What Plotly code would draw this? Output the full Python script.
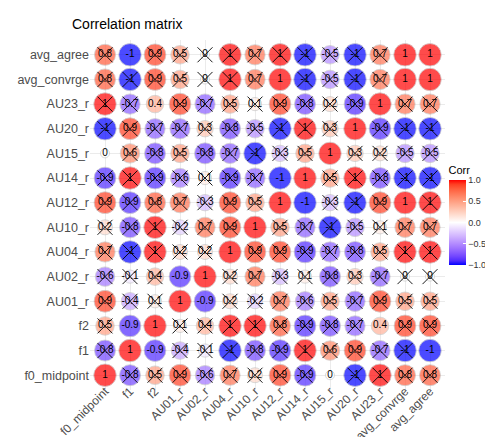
import plotly.graph_objects as go
import numpy as np

variables = ["f0_midpoint", "f1", "f2", "AU01_r", "AU02_r", "AU04_r", "AU10_r",
             "AU12_r", "AU14_r", "AU15_r", "AU20_r", "AU23_r", "avg_convrge", "avg_agree"]

# correlation matrix (row i = variable i, column j = variable j)
corr = [
    [1, -0.8, 0.5, 0.9, -0.6, 0.7, 0.2, 0.9, -0.9, 0, -1, 1, 0.8, 0.8],
    [-0.8, 1, -0.9, -0.4, -0.1, -1, -0.8, -0.9, 1, 0.6, 0.9, -0.7, -1, -1],
    [0.5, -0.9, 1, 0.1, 0.4, 1, 1, 0.8, -0.9, -0.8, -0.7, 0.4, 0.9, 0.9],
    [0.9, -0.4, 0.1, 1, -0.9, 0.2, -0.2, 0.7, -0.6, 0.5, -0.7, 0.9, 0.5, 0.5],
    [-0.6, -0.1, 0.4, -0.9, 1, 0.2, 0.7, -0.3, 0.1, -0.8, 0.3, -0.7, 0, 0],
    [0.7, -1, 1, 0.2, 0.2, 1, 0.9, 0.9, -0.9, -0.7, -0.8, 0.5, 1, 1],
    [0.2, -0.8, 1, -0.2, 0.7, 0.9, 1, 0.5, -0.7, -1, -0.5, 0.1, 0.7, 0.7],
    [0.9, -0.9, 0.8, 0.7, -0.3, 0.9, 0.5, 1, -1, -0.3, -1, 0.9, 1, 1],
    [-0.9, 1, -0.9, -0.6, 0.1, -0.9, -0.7, -1, 1, 0.5, 1, -0.8, -1, -1],
    [0, 0.6, -0.8, 0.5, -0.8, -0.7, -1, -0.3, 0.5, 1, 0.3, 0.2, -0.5, -0.5],
    [-1, 0.9, -0.7, -0.7, 0.3, -0.8, -0.5, -1, 1, 0.3, 1, -0.9, -1, -1],
    [1, -0.7, 0.4, 0.9, -0.7, 0.5, 0.1, 0.9, -0.8, 0.2, -0.9, 1, 0.7, 0.7],
    [0.8, -1, 0.9, 0.5, 0, 1, 0.7, 1, -1, -0.5, -1, 0.7, 1, 1],
    [0.8, -1, 0.9, 0.5, 0, 1, 0.7, 1, -1, -0.5, -1, 0.7, 1, 1],
]

# 1 = not significant (crossed out)
insig = [
    [0, 1, 1, 1, 1, 1, 1, 1, 1, 0, 1, 1, 1, 1],
    [1, 0, 0, 1, 1, 1, 1, 1, 1, 1, 1, 1, 1, 0],
    [1, 0, 0, 1, 1, 1, 1, 1, 1, 1, 1, 0, 1, 1],
    [1, 1, 1, 0, 0, 1, 1, 1, 1, 1, 1, 1, 1, 1],
    [1, 1, 1, 0, 0, 1, 1, 1, 1, 1, 1, 1, 1, 1],
    [1, 1, 1, 1, 1, 0, 1, 1, 1, 1, 1, 1, 1, 1],
    [1, 1, 1, 1, 1, 1, 0, 1, 1, 1, 1, 1, 1, 1],
    [1, 1, 1, 1, 1, 1, 1, 0, 0, 1, 1, 1, 0, 1],
    [1, 1, 1, 1, 1, 1, 1, 0, 0, 1, 1, 1, 1, 1],
    [0, 1, 1, 1, 1, 1, 1, 1, 1, 0, 1, 1, 1, 1],
    [1, 1, 1, 1, 1, 1, 1, 1, 1, 1, 0, 1, 1, 1],
    [1, 1, 0, 1, 1, 1, 1, 1, 1, 1, 1, 0, 1, 1],
    [1, 1, 1, 1, 1, 1, 1, 0, 1, 1, 1, 1, 0, 0],
    [1, 0, 1, 1, 1, 1, 1, 1, 1, 1, 1, 1, 0, 0],
]

colorbar_ticks = [-1.0, -0.5, 0.0, 0.5, 1.0]


# ---- Lab-space diverging colour scale (blue - white - red) ----
def _to_lin(c):
    c = c / 255.0
    return c / 12.92 if c <= 0.04045 else ((c + 0.055) / 1.055) ** 2.4


def _from_lin(c):
    v = 12.92 * c if c <= 0.0031308 else 1.055 * c ** (1 / 2.4) - 0.055
    return max(0, min(255, round(v * 255)))


def rgb2lab(rgb):
    r, g, b = [_to_lin(v) for v in rgb]
    X = 0.4124 * r + 0.3576 * g + 0.1805 * b
    Y = 0.2126 * r + 0.7152 * g + 0.0722 * b
    Z = 0.0193 * r + 0.1192 * g + 0.9505 * b
    xn, yn, zn = 0.95047, 1.0, 1.08883

    def f(t):
        return t ** (1 / 3) if t > 0.008856 else 7.787 * t + 16 / 116
    fx, fy, fz = f(X / xn), f(Y / yn), f(Z / zn)
    return (116 * fy - 16, 500 * (fx - fy), 200 * (fy - fz))


def lab2rgb(lab):
    L, a, bb = lab
    fy = (L + 16) / 116
    fx = fy + a / 500
    fz = fy - bb / 200

    def finv(t):
        return t ** 3 if t ** 3 > 0.008856 else (t - 16 / 116) / 7.787
    X, Y, Z = 0.95047 * finv(fx), finv(fy), 1.08883 * finv(fz)
    r = 3.2406 * X - 1.5372 * Y - 0.4986 * Z
    g = -0.9689 * X + 1.8758 * Y + 0.0415 * Z
    b = 0.0557 * X - 0.2040 * Y + 1.0570 * Z
    return tuple(_from_lin(max(0, v)) for v in (r, g, b))


def build_scale(low, mid, high, n=20):
    lo, mi, hi = rgb2lab(low), rgb2lab(mid), rgb2lab(high)
    scale = []
    for k in range(n + 1):
        t = k / n
        if t <= 0.5:
            s = t / 0.5
            lab = tuple(lo[i] + (mi[i] - lo[i]) * s for i in range(3))
        else:
            s = (t - 0.5) / 0.5
            lab = tuple(mi[i] + (hi[i] - mi[i]) * s for i in range(3))
        r, g, b = lab2rgb(lab)
        scale.append([t, f"rgb({r},{g},{b})"])
    return scale


colorscale = build_scale((0, 0, 255), (255, 255, 255), (255, 0, 0))

n = len(variables)
xs, ys, vals, sizes, texts = [], [], [], [], []
xx, xy = [], []
for i in range(n):          # row -> y
    for j in range(n):      # column -> x
        v = corr[i][j]
        xs.append(variables[j])
        ys.append(variables[i])
        vals.append(v)
        sizes.append(22.5 * (0.4 + 0.6 * np.sqrt(abs(v))))
        texts.append(f"{v:g}")
        if insig[i][j]:
            xx.append(variables[j])
            xy.append(variables[i])

fig = go.Figure()
fig.add_trace(go.Scatter(
    x=xs, y=ys, mode="markers",
    marker=dict(size=sizes, color=vals, colorscale=colorscale, cmin=-1, cmax=1,
                line=dict(color="#BEBEBE", width=0.8),
                colorbar=dict(
                    title=dict(text="Corr", side="top", font=dict(size=11, color="black")),
                    tickvals=colorbar_ticks,
                    ticktext=[f"{t:.1f}".replace("-", "\u2212") for t in colorbar_ticks],
                    tickfont=dict(size=9, color="#333333"),
                    ticks="inside", ticklen=3, tickcolor="white",
                    thickness=17, thicknessmode="pixels",
                    len=102, lenmode="pixels",
                    x=1.01, xanchor="left", y=(382 - 155) / 350, yanchor="top",
                    outlinewidth=0, xpad=0, ypad=0,
                )),
    hoverinfo="skip", showlegend=False,
))
fig.add_trace(go.Scatter(
    x=xs, y=ys, mode="text", text=texts,
    textfont=dict(size=10, color="black", family="Liberation Sans, Arial, sans-serif"),
    hoverinfo="skip", showlegend=False,
))
fig.add_trace(go.Scatter(
    x=xx, y=xy, mode="markers",
    marker=dict(symbol="x-thin", size=15, color="black",
                line=dict(color="black", width=0.9)),
    hoverinfo="skip", showlegend=False,
))

axis_common = dict(
    type="category", categoryorder="array", categoryarray=variables,
    showgrid=True, gridcolor="#EBEBEB", gridwidth=1,
    zeroline=False, showline=False, ticks="",
    range=[-0.6, n - 0.4], fixedrange=True,
)
fig.update_xaxes(**axis_common, tickangle=-45, ticklabelstandoff=-9,
                 tickfont=dict(size=12, color="#4D4D4D", family="Liberation Sans, Arial, sans-serif"))
fig.update_yaxes(**axis_common,
                 tickfont=dict(size=12.5, color="#4D4D4D", family="Liberation Sans, Arial, sans-serif"))

fig.update_layout(
    width=493, height=437,
    margin=dict(l=82, r=56, t=32, b=55, autoexpand=False),
    plot_bgcolor="white", paper_bgcolor="white",
    font=dict(family="Liberation Sans, Arial, sans-serif"),
    title=dict(text="Correlation matrix", x=64 / 493, xref="container", xanchor="left",
               y=1 - 16 / 437, yref="container", yanchor="middle",
               font=dict(size=14, color="black")),
)

fig.write_html("out.html")
